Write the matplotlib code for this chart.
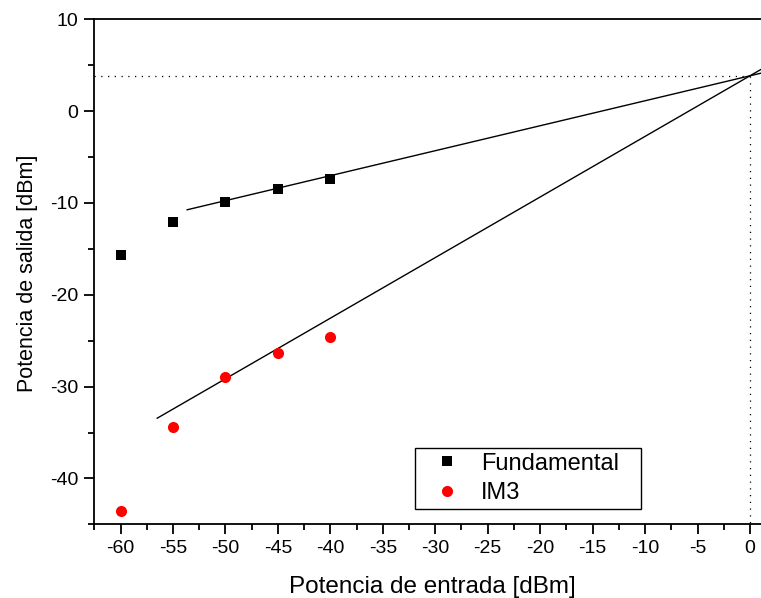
import numpy as np
import matplotlib
matplotlib.use("Agg")
import matplotlib.pyplot as plt
from matplotlib.ticker import MultipleLocator

plt.rcParams['font.family'] = ['Liberation Sans', 'DejaVu Sans']
plt.rcParams['axes.unicode_minus'] = False

# Measured output power versus input power
p_in = [-60, -55, -50, -45, -40]
fundamental = [-15.7, -12.1, -9.95, -8.5, -7.35]
im3 = [-43.5, -34.4, -29.0, -26.3, -24.6]

# Linear fits (slope, intercept) and the input range each one spans
fund_slope, fund_icpt = 0.272, 3.85
im3_slope, im3_icpt = 0.66, 3.85
fund_fit_start = -53.65
im3_fit_start = -56.5

x_min, x_max = -62.5, 1.05
y_min, y_max = -45.0, 10.0

fig = plt.figure(figsize=(7.61, 5.98), dpi=100)
ax = fig.add_axes([0.1239, 0.1232, 0.8761, 0.8445])

# Fitted lines
xf = np.array([fund_fit_start, x_max + 1])
ax.plot(xf, fund_slope * xf + fund_icpt, color='black', lw=1.0, zorder=2)
xi = np.array([im3_fit_start, x_max + 1])
ax.plot(xi, im3_slope * xi + im3_icpt, color='black', lw=1.0, zorder=2)

# Third-order intercept point guides
ip_x = (im3_icpt - fund_icpt) / (fund_slope - im3_slope)
ip_y = fund_slope * ip_x + fund_icpt
dot = dict(color='black', lw=0.9, linestyle=(0, (1, 4.4)), zorder=1)
ax.plot([x_min, ip_x], [ip_y, ip_y], **dot)
ax.plot([ip_x, ip_x], [ip_y, y_min], **dot)

# Data points
ax.plot(p_in, fundamental, linestyle='none', marker='s', markersize=7.2,
        color='black', markeredgewidth=0, label='Fundamental', zorder=3)
ax.plot(p_in, im3, linestyle='none', marker='o', markersize=8.0,
        color='#ff0000', markeredgewidth=0, label='IM3', zorder=3)

ax.set_xlim(x_min, x_max)
ax.set_ylim(y_min, y_max)

ax.xaxis.set_major_locator(MultipleLocator(5))
ax.xaxis.set_minor_locator(MultipleLocator(2.5))
ax.yaxis.set_major_locator(MultipleLocator(10))
ax.yaxis.set_minor_locator(MultipleLocator(5))

ax.tick_params(which='both', direction='out', width=1.3, colors='black',
               top=False, right=False)
ax.tick_params(which='major', length=7.5, labelsize=14, pad=4)
ax.tick_params(which='minor', length=4.5)

for side in ('left', 'bottom', 'top'):
    ax.spines[side].set_linewidth(1.3)
ax.spines['right'].set_visible(False)

ax.set_xlabel('Potencia de entrada [dBm]', fontsize=17.5)
ax.xaxis.label.set_va('center')
ax.xaxis.set_label_coords(0.5065, -0.124)

ax.set_ylabel('Potencia de salida [dBm]', fontsize=15.5)
ax.yaxis.label.set_va('center')
ax.yaxis.label.set_rotation_mode('default')
ax.yaxis.set_label_coords(-0.1005, 0.4965)

leg = ax.legend(loc='lower left', bbox_to_anchor=(0.481, 0.0303, 0.3386, 0.1202),
                mode='expand', fontsize=17, frameon=True, fancybox=False,
                framealpha=1, edgecolor='black', borderpad=0.2,
                labelspacing=0.33, handlelength=2.3, handletextpad=0.31,
                borderaxespad=0)
leg.get_frame().set_linewidth(1.0)

fig.savefig('out.png', dpi=100)
